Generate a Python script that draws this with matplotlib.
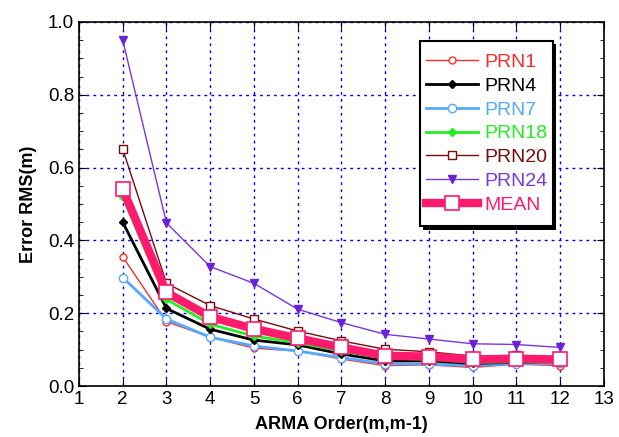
import matplotlib.pyplot as plt
import matplotlib.patches as mpatches
from matplotlib.transforms import IdentityTransform
from matplotlib.ticker import MultipleLocator

plt.rcParams['font.family'] = ['Liberation Sans', 'DejaVu Sans']

orders = [2, 3, 4, 5, 6, 7, 8, 9, 10, 11, 12]

prn1 = [0.355, 0.177, 0.134, 0.104, 0.096, 0.074, 0.056, 0.058, 0.051, 0.060, 0.056]
prn4 = [0.450, 0.213, 0.156, 0.126, 0.113, 0.088, 0.069, 0.069, 0.062, 0.065, 0.067]
prn7 = [0.298, 0.184, 0.134, 0.110, 0.096, 0.078, 0.061, 0.060, 0.056, 0.061, 0.062]
prn18 = [0.520, 0.238, 0.170, 0.137, 0.119, 0.096, 0.076, 0.074, 0.065, 0.066, 0.066]
prn20 = [0.651, 0.282, 0.221, 0.184, 0.151, 0.124, 0.101, 0.094, 0.082, 0.084, 0.079]
prn24 = [0.950, 0.448, 0.328, 0.282, 0.211, 0.174, 0.142, 0.129, 0.116, 0.114, 0.106]
mean = [0.541, 0.257, 0.190, 0.157, 0.131, 0.106, 0.083, 0.081, 0.073, 0.075, 0.073]

fig = plt.figure(figsize=(6.19, 4.37), dpi=100)
ax = fig.add_axes([0.1276, 0.1167, 0.848, 0.833])

ax.plot(orders, prn1, color='#ff2a2a', lw=1, marker='o', ms=5, mfc='white', mec='#ff2a2a', label='PRN1')
ax.plot(orders, prn7, color='#55aaff', lw=2, marker='o', ms=6, mfc='white', mec='#55aaff', label='PRN7')
ax.plot(orders, prn4, color='black', lw=2, marker='D', ms=4, mfc='black', mec='black', label='PRN4')
ax.plot(orders, prn18, color='#22ee22', lw=2, marker='D', ms=4, mfc='#22ee22', mec='#22ee22', label='PRN18')
ax.plot(orders, prn20, color='#7a0a0a', lw=1, marker='s', ms=6, mfc='white', mec='#7a0a0a', label='PRN20')
ax.plot(orders, prn24, color='#7a35e0', lw=1, marker='v', ms=6, mfc='#6a22d8', mec='#6a22d8', label='PRN24')
ax.plot(orders, mean, color='#ff1a6e', lw=6, marker='s', ms=10, mfc='white', mec='#ff1a6e', mew=1.2, label='MEAN')

ax.set_xlim(1, 13)
ax.set_ylim(0, 1.0)
ax.xaxis.set_major_locator(MultipleLocator(1))
ax.set_yticks([0, 0.2, 0.4, 0.6, 0.8, 1.0])
ax.set_yticklabels(['0.0', '0.2', '0.4', '0.6', '0.8', '1.0'])
ax.yaxis.set_minor_locator(MultipleLocator(0.05))
ax.grid(True, which='major', color='#0000ee', linestyle=(0, (2, 3)), lw=1)
ax.tick_params(which='both', direction='in', top=True, right=True, labelsize=13.5)
ax.tick_params(which='major', length=5)
ax.tick_params(which='minor', length=3)
for s in ax.spines.values():
    s.set_linewidth(1.2)

ax.set_xlabel('ARMA Order(m,m-1)', fontsize=13, fontweight='bold', labelpad=6)
ax.set_ylabel('Error RMS(m)', fontsize=13, fontweight='bold', labelpad=8)

handles, labels = ax.get_legend_handles_labels()
order = ['PRN1', 'PRN4', 'PRN7', 'PRN18', 'PRN20', 'PRN24', 'MEAN']
hl = [handles[labels.index(n)] for n in order]
leg = ax.legend(hl, order, loc='upper right', bbox_to_anchor=(0.903, 0.930),
                fontsize=14, frameon=False, handlelength=2.7,
                labelspacing=0.32, borderpad=0.3, handletextpad=0.3,
                borderaxespad=0)
leg.set_zorder(6)
for t, h in zip(leg.get_texts(), hl):
    t.set_color(h.get_color())

# frame with extra vertical padding and a drop shadow
fig.canvas.draw()
bb = leg.get_window_extent()
pad_y = 6.5
x0, x1 = bb.x0, bb.x1
y0, y1 = bb.y0 - pad_y, bb.y1 + pad_y
shadow = mpatches.Rectangle((x0 + 3.5, y0 - 3.5), x1 - x0, y1 - y0,
                            transform=IdentityTransform(),
                            facecolor='black', edgecolor='none', zorder=4, clip_on=False)
frame = mpatches.Rectangle((x0, y0), x1 - x0, y1 - y0, transform=IdentityTransform(),
                           facecolor='white', edgecolor='black', lw=1.5, zorder=5, clip_on=False)
ax.add_artist(shadow)
ax.add_artist(frame)

fig.savefig('out.png', dpi=100)
